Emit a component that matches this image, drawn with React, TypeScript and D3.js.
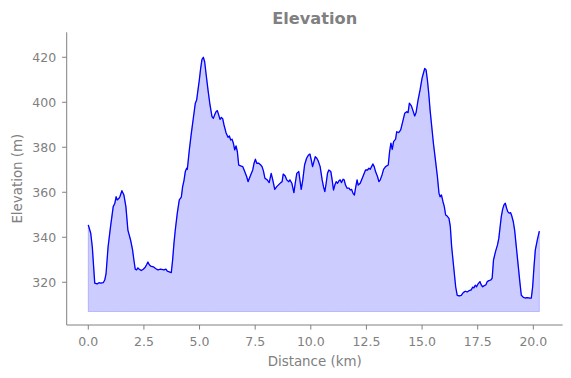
import React from "react";
import * as d3 from "d3";

const distKm: number[] = [
  0.0, 0.11, 0.18, 0.29, 0.4, 0.48, 0.56, 0.67, 0.74, 0.8, 0.89, 1.0, 1.12, 1.19, 1.25, 1.3, 1.38, 1.42, 1.51, 1.6,
  1.69, 1.78, 1.9, 1.99, 2.05, 2.11, 2.17, 2.23, 2.29, 2.38, 2.47, 2.56, 2.62, 2.68, 2.74, 2.8, 2.89, 2.95, 3.04, 3.13,
  3.25, 3.4, 3.49, 3.55, 3.64, 3.73, 3.79, 3.85, 3.91, 4.0, 4.09, 4.18, 4.24, 4.3, 4.36, 4.42, 4.45, 4.54, 4.63, 4.72,
  4.81, 4.87, 4.93, 4.99, 5.05, 5.11, 5.17, 5.23, 5.29, 5.38, 5.47, 5.56, 5.62, 5.68, 5.74, 5.8, 5.86, 5.92, 5.98, 6.04,
  6.1, 6.19, 6.28, 6.34, 6.4, 6.46, 6.52, 6.58, 6.64, 6.7, 6.76, 6.85, 6.94, 7.03, 7.12, 7.18, 7.24, 7.33, 7.39, 7.45,
  7.51, 7.57, 7.66, 7.75, 7.81, 7.87, 7.94, 8.04, 8.13, 8.22, 8.29, 8.38, 8.47, 8.56, 8.65, 8.71, 8.76, 8.85, 8.92, 9.01,
  9.06, 9.15, 9.24, 9.3, 9.37, 9.46, 9.51, 9.57, 9.64, 9.72, 9.81, 9.9, 9.96, 10.02, 10.08, 10.14, 10.2, 10.27, 10.33, 10.42,
  10.51, 10.57, 10.63, 10.69, 10.75, 10.81, 10.9, 10.96, 11.02, 11.08, 11.14, 11.2, 11.27, 11.32, 11.38, 11.45, 11.5, 11.56, 11.63, 11.72,
  11.77, 11.83, 11.9, 11.96, 12.01, 12.08, 12.13, 12.22, 12.28, 12.37, 12.46, 12.55, 12.61, 12.67, 12.73, 12.79, 12.85, 12.91, 13.0, 13.06,
  13.12, 13.2, 13.27, 13.36, 13.48, 13.54, 13.6, 13.66, 13.72, 13.81, 13.86, 13.95, 14.04, 14.13, 14.22, 14.31, 14.37, 14.43, 14.52, 14.58,
  14.67, 14.73, 14.82, 14.91, 15.0, 15.06, 15.12, 15.18, 15.24, 15.3, 15.36, 15.42, 15.51, 15.6, 15.69, 15.76, 15.81, 15.87, 15.94, 16.0,
  16.06, 16.12, 16.21, 16.27, 16.33, 16.42, 16.51, 16.58, 16.67, 16.76, 16.85, 16.94, 17.03, 17.12, 17.21, 17.27, 17.33, 17.39, 17.45, 17.51,
  17.6, 17.66, 17.72, 17.78, 17.87, 17.93, 18.0, 18.09, 18.15, 18.21, 18.3, 18.39, 18.45, 18.5, 18.56, 18.62, 18.68, 18.74, 18.8, 18.85,
  18.92, 18.98, 19.04, 19.1, 19.16, 19.22, 19.28, 19.34, 19.4, 19.46, 19.55, 19.64, 19.73, 19.85, 19.91, 19.97, 20.03, 20.09, 20.18, 20.27,
];

const elevM: number[] = [
  345.5, 341.8, 335.8, 319.6, 319.3, 319.8, 319.6, 319.8, 321, 324, 335.8, 344.7, 353.6, 355, 358, 356.6, 357.3, 358, 360.7, 358.8,
  353.6, 343.2, 338.8, 334.4, 329.9, 325.8, 325.5, 326.4, 325.8, 325.2, 325.8, 326.7, 327.8, 329, 327.8, 327.2, 326.9, 326.7, 326, 325.5,
  325.8, 325.5, 325.8, 324.9, 324.6, 324.3, 329.9, 337.3, 343.2, 350.7, 356.6, 357.8, 362.5, 365.2, 369.2, 370.7, 370.2, 378.8, 386.2, 392.9,
  399.6, 401, 405.5, 409.9, 415.1, 419.1, 420, 418, 412.9, 405.5, 398.8, 393.6, 392.9, 394.4, 395.8, 396.3, 394.4, 392.4, 393.3, 392.7,
  389.9, 386.5, 384.4, 385, 383.2, 383.6, 381.8, 378.8, 380.6, 378, 372.1, 371.7, 371.4, 369.2, 366.9, 364.7, 366.2, 368.4, 369.9, 372.9,
  374.7, 372.9, 372.9, 372.1, 371.4, 369.5, 366.2, 365.5, 364.3, 368.4, 365.5, 361.3, 362.5, 363.4, 364.3, 364.7, 368.1, 367.2, 365.5, 364.7,
  365.5, 364, 359.8, 364, 368.4, 369.2, 365.5, 361.3, 365.5, 372.1, 375.1, 376.6, 377, 374.4, 371.4, 373.6, 375.8, 375.1, 374, 371.4,
  365.5, 362.5, 360.3, 364, 368.4, 369.9, 369.2, 365.5, 361, 363.2, 364.7, 364, 365.2, 365.5, 364.3, 365.8, 365.5, 363.2, 361.8, 361.8,
  361, 361.3, 359.5, 358.8, 361.8, 365.5, 363.2, 364, 365.5, 367.7, 369.9, 369.9, 370.7, 370.2, 371.4, 372.6, 371.4, 369.2, 366.9, 364.7,
  365.5, 367.7, 370.2, 371.4, 372.1, 378, 381.8, 379.1, 382.5, 383.6, 386.9, 386.5, 387.7, 391.4, 395.1, 395.8, 395.4, 399.6, 398.4, 396.6,
  393.9, 395.4, 401, 405.5, 410.7, 412.9, 415.1, 414.4, 409.9, 404, 396.6, 390.7, 381.8, 374.4, 366.9, 359.6, 358, 358.8, 355.8, 353.6,
  349.9, 349.5, 348.4, 344.7, 335.8, 326.9, 318, 314.2, 313.9, 314.2, 315.4, 316, 315.7, 316.3, 316.6, 317.8, 317.5, 318.7, 318, 319.2,
  320.3, 318.8, 318, 318.4, 318.9, 320.3, 320.7, 321, 321.8, 329.9, 333.6, 336.6, 339.6, 344, 349.2, 352.4, 354.4, 355.1, 352.9, 351.4,
  350.7, 350.9, 349.2, 346.9, 343.2, 337.3, 331.4, 325.5, 319.6, 314.2, 313.3, 313, 313.2, 312.9, 313, 318, 326.9, 334.4, 338.8, 342.7,
];

const xTicks: number[] = [0, 2.5, 5, 7.5, 10, 12.5, 15, 17.5, 20];
const yTicks: number[] = [320, 340, 360, 380, 400, 420];
const fillBase = 307;

const W = 571;
const H = 378;
const GRAY = "#808080";
const FONT = "DejaVu Sans, sans-serif";

export default function App() {
  const left = 66.7, right = 562.7, top = 32.3, bottom = 325;
  const x = d3.scaleLinear().domain([-0.97, 21.32]).range([left, right]);
  const y = d3.scaleLinear().domain([301, 431.1]).range([bottom, top]);
  const pts: [number, number][] = distKm.map((d, i) => [d, elevM[i]]);
  const line = d3.line<[number, number]>().x((d) => x(d[0])).y((d) => y(d[1]));
  const area = d3
    .area<[number, number]>()
    .x((d) => x(d[0]))
    .y0(() => y(fillBase))
    .y1((d) => y(d[1]));

  return (
    <svg width={W} height={H} style={{ position: "absolute", left: 0, top: 0 }} fontFamily={FONT}>
      <rect width={W} height={H} fill="#ffffff" />
      <path d={area(pts) || ""} fill="rgba(0,0,255,0.2)" stroke="rgba(0,0,255,0.2)" strokeWidth={1} />
      <path d={line(pts) || ""} fill="none" stroke="#0000ff" strokeWidth={1.3} strokeLinejoin="round" />
      {/* spines */}
      <line x1={left} x2={left} y1={top} y2={bottom} stroke={GRAY} strokeWidth={1} />
      <line x1={left} x2={right} y1={bottom} y2={bottom} stroke={GRAY} strokeWidth={1} />
      {xTicks.map((t) => (
        <g key={"x" + t}>
          <line x1={x(t)} x2={x(t)} y1={bottom} y2={bottom + 4.6} stroke={GRAY} strokeWidth={1} />
          <text x={x(t)} y={bottom + 20.5} textAnchor="middle" fontSize={12.5} fill={GRAY}>
            {t.toFixed(1)}
          </text>
        </g>
      ))}
      {yTicks.map((t) => (
        <g key={"y" + t}>
          <line x1={left - 4.6} x2={left} y1={y(t)} y2={y(t)} stroke={GRAY} strokeWidth={1} />
          <text x={left - 10.5} y={y(t) + 4.5} textAnchor="end" fontSize={12.5} fill={GRAY}>
            {t}
          </text>
        </g>
      ))}
      <text x={(left + right) / 2} y={366} textAnchor="middle" fontSize={13.4} fill={GRAY}>
        Distance (km)
      </text>
      <text
        transform={`translate(21.5, ${(top + bottom) / 2}) rotate(-90)`}
        textAnchor="middle"
        fontSize={13.4}
        fill={GRAY}
      >
        Elevation (m)
      </text>
      <text x={(left + right) / 2} y={24} textAnchor="middle" fontSize={16.2} fontWeight="bold" fill={GRAY}>
        Elevation
      </text>
    </svg>
  );
}
